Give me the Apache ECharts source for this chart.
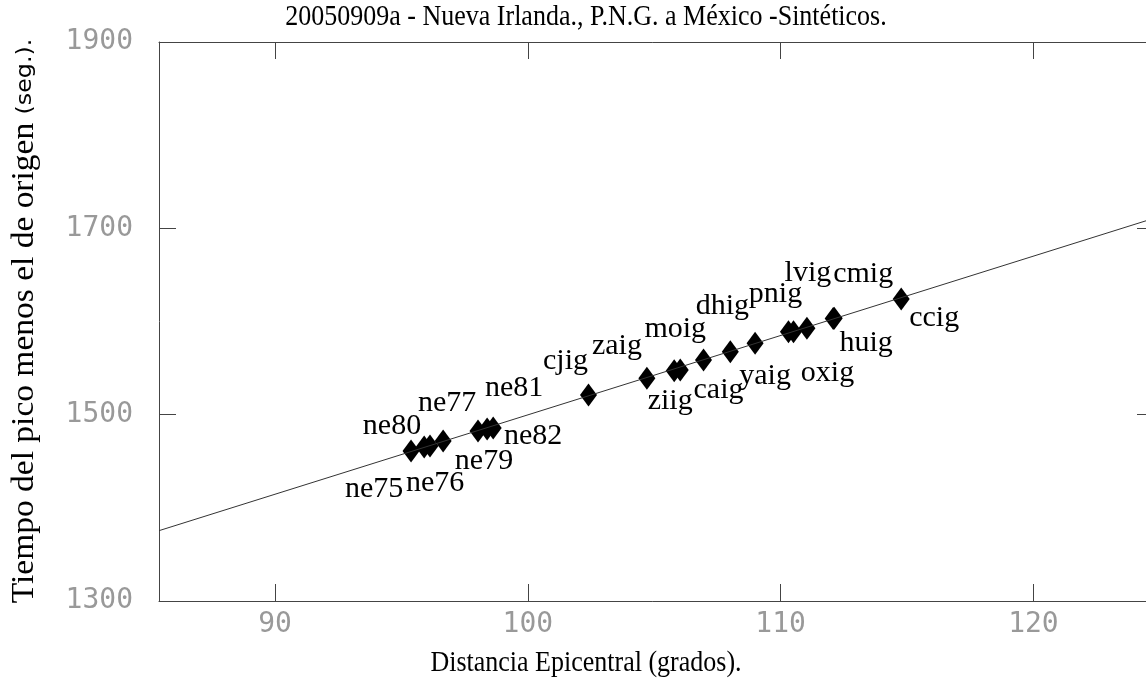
<!DOCTYPE html>
<html>
<head>
<meta charset="utf-8">
<script src="https://cdn.jsdelivr.net/npm/echarts@6/dist/echarts.min.js"></script>
<style>
html,body{margin:0;padding:0;background:#fff;}
#chart{width:1146px;height:683px;}
</style>
</head>
<body>
<div id="chart"></div>
<script>
// ---- data ----
const stations = ['ne75','ne76','ne80','ne77','ne79','ne81','ne82','cjig','zaig','ziig','moig','caig','dhig','yaig','pnig','oxig','lvig','huig','cmig','ccig'];
const distances = [95.38, 95.90, 96.13, 96.65, 98.03, 98.39, 98.63, 102.40, 104.71, 105.79, 106.03, 106.95, 108.01, 108.99, 110.31, 110.51, 111.04, 112.08, 112.12, 114.77];
const times = [1461.0, 1465.3, 1466.4, 1471.8, 1482.5, 1484.6, 1485.7, 1521.1, 1539.1, 1547.2, 1548.0, 1558.7, 1567.6, 1576.6, 1589.1, 1589.1, 1592.7, 1603.2, 1603.5, 1624.2];
const fitX = [85.41, 124.77];
const fitY = [1375.5, 1710.8];
const xTicks = [90, 100, 110, 120];
const yTicks = [1300, 1500, 1700, 1900];
const titleText = '20050909a - Nueva Irlanda., P.N.G. a México -Sintéticos.';
const xName = 'Distancia Epicentral (grados).';
const yNameMain = 'Tiempo del pico menos el de origen ';
const yNameUnit = '(seg.).';

// ---- label placement (style) ----
const labelOffsets = [[-37,38],[11,36],[-38,-20],[4,-38],[6,30],[27,-41],[40,8],
  [-23,-34],[-30,-32],[-4,30],[-5,-41],[15,30],[-8,-46],[10,33],[-13,-38],[34,41],[1,-55],[33,25],[29,-44],[33,19]];

const axisColor = '#444';
const tickLabelColor = '#999';
const monoFont = 'DejaVu Sans Mono';
const serif = 'Liberation Serif';

const points = stations.map((s, i) => ({
  name: s,
  value: [distances[i], times[i]],
  label: { offset: labelOffsets[i] }
}));

const chart = echarts.init(document.getElementById('chart'), null, {renderer: 'canvas'});
const xCommon = {
  type: 'value', min: 85.41, max: 124.77,
  splitLine: {show: false},
  axisLine: {show: true, lineStyle: {color: axisColor, width: 1}},
  axisTick: {show: true, inside: true, length: 17, customValues: xTicks, lineStyle: {color: axisColor}}
};
const yCommon = {
  type: 'value', min: 1300, max: 1900, interval: 200,
  splitLine: {show: false},
  axisLine: {show: true, lineStyle: {color: axisColor, width: 1}},
  axisTick: {show: true, inside: true, length: 17, lineStyle: {color: axisColor}}
};
chart.setOption({
  animation: false,
  backgroundColor: '#fff',
  grid: {left: 159, right: -8, top: 42, bottom: 82, containLabel: false, outerBoundsMode: 'none'},
  xAxis: [
    Object.assign({}, xCommon, {position: 'bottom',
      axisLabel: {customValues: xTicks, formatter: v => String(v), fontFamily: monoFont, fontSize: 28, color: tickLabelColor, margin: 10}}),
    Object.assign({}, xCommon, {position: 'top', axisLabel: {show: false}})
  ],
  yAxis: [
    Object.assign({}, yCommon, {position: 'left',
      axisLabel: {customValues: yTicks, formatter: v => String(v), fontFamily: monoFont, fontSize: 28, color: tickLabelColor, margin: 26}}),
    Object.assign({}, yCommon, {position: 'right', axisLabel: {show: false}})
  ],
  series: [
    {
      type: 'line', xAxisIndex: 0, yAxisIndex: 0,
      data: fitX.map((x, i) => [x, fitY[i]]),
      symbol: 'none', clip: true,
      lineStyle: {color: '#333', width: 1}
    },
    {
      type: 'scatter', xAxisIndex: 0, yAxisIndex: 0,
      data: points,
      symbol: 'diamond', symbolSize: [17, 23],
      itemStyle: {color: '#000', opacity: 1},
      label: {
        show: true, position: 'inside', formatter: '{b}',
        fontFamily: serif, fontSize: 30, color: '#000',
        align: 'center', verticalAlign: 'middle'
      }
    }
  ],
  graphic: [
    {type: 'text', x: 586, y: 17, scaleY: 1.14, style: {text: titleText, font: '26px "Liberation Serif"', fill: '#000',
      align: 'center', verticalAlign: 'middle', textAlign: 'center', textVerticalAlign: 'middle'}},
    {type: 'text', x: 586, y: 663, scaleY: 1.14, style: {text: xName, font: '26px "Liberation Serif"', fill: '#000',
      align: 'center', verticalAlign: 'middle', textAlign: 'center', textVerticalAlign: 'middle'}},
    {type: 'text', x: 25, y: 321, rotation: Math.PI / 2, scaleX: 1.08, style: {
      text: '{a|' + yNameMain + '}{b|' + yNameUnit + '}',
      align: 'center', verticalAlign: 'middle', textAlign: 'center', textVerticalAlign: 'middle',
      rich: {
        a: {fontFamily: serif, fontSize: 31, fill: '#000', color: '#000'},
        b: {fontFamily: 'DejaVu Sans', fontSize: 22, fill: '#000', color: '#000'}
      }}}
  ]
});
</script>
</body>
</html>
